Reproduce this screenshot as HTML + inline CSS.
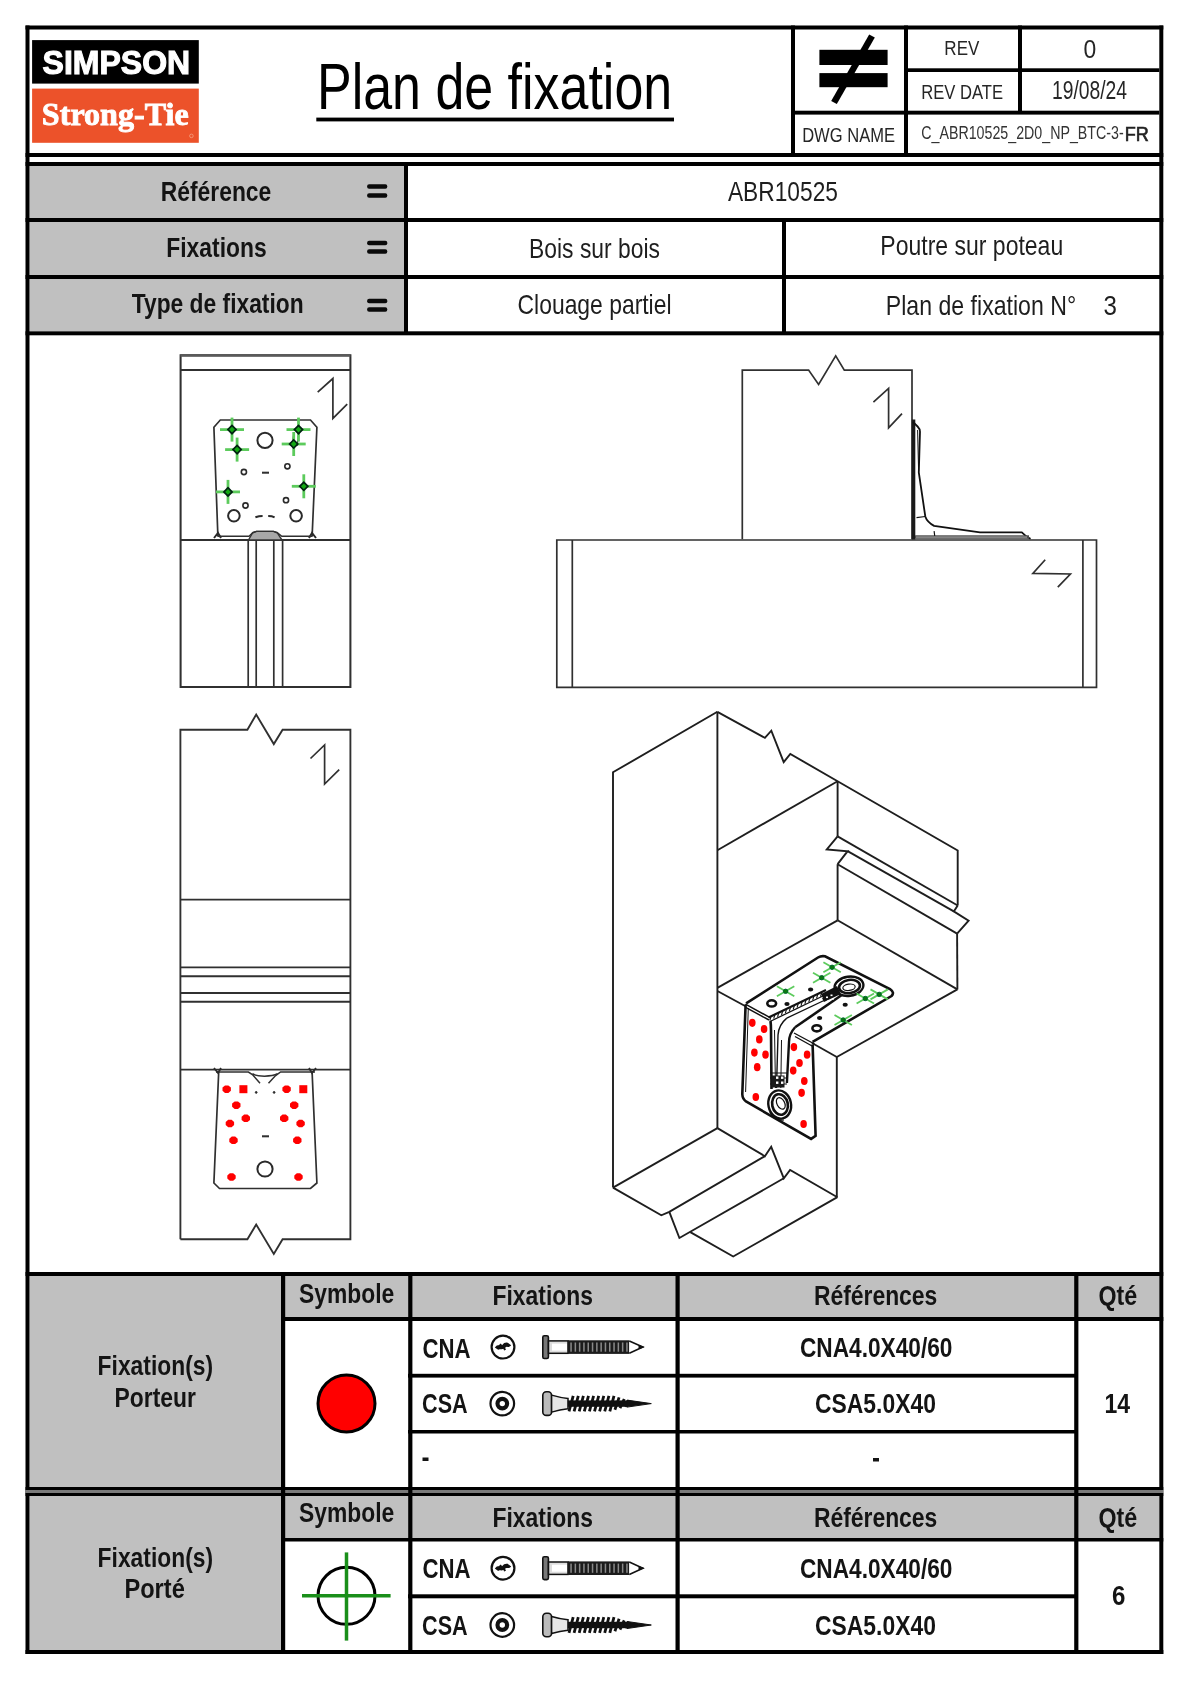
<!DOCTYPE html>
<html><head><meta charset="utf-8"><title>Plan de fixation</title>
<style>
html,body{margin:0;padding:0;background:#fff;}
body{width:1190px;height:1682px;overflow:hidden;font-family:"Liberation Sans",sans-serif;}
svg{display:block;}
svg{will-change:transform;}
</style></head>
<body>
<svg width="1190" height="1682" viewBox="0 0 1190 1682">
<rect x="0" y="0" width="1190" height="1682" fill="#fff"/>
<rect x="29.5" y="166" width="374.5" height="165" fill="#c0c0c0"/>
<rect x="29.5" y="1276" width="251.5" height="211" fill="#c0c0c0"/>
<rect x="285" y="1276" width="874.3" height="41" fill="#c0c0c0"/>
<rect x="29.5" y="1496" width="251.5" height="154" fill="#c0c0c0"/>
<rect x="285" y="1496" width="874.3" height="42" fill="#c0c0c0"/>
<rect x="25.5" y="25.5" width="1137.8" height="4.0" fill="#000"/>
<rect x="25.5" y="25.5" width="4.0" height="1628.5" fill="#000"/>
<rect x="1159.3" y="25.5" width="4.0" height="1628.5" fill="#000"/>
<rect x="25.5" y="1650" width="1137.8" height="4" fill="#000"/>
<rect x="906" y="68.3" width="253.3" height="3.7" fill="#000"/>
<rect x="793" y="110.7" width="366.3" height="3.9" fill="#000"/>
<rect x="25.5" y="153" width="1137.8" height="4" fill="#000"/>
<rect x="25.5" y="162" width="1137.8" height="4" fill="#000"/>
<rect x="791" y="25.5" width="4" height="131.5" fill="#000"/>
<rect x="904" y="25.5" width="4" height="131.5" fill="#000"/>
<rect x="1018" y="25.5" width="4" height="88.5" fill="#000"/>
<rect x="25.5" y="218" width="1137.8" height="4" fill="#000"/>
<rect x="25.5" y="275" width="1137.8" height="4" fill="#000"/>
<rect x="25.5" y="331.3" width="1137.8" height="4.0" fill="#000"/>
<rect x="404" y="162" width="4" height="173" fill="#000"/>
<rect x="782" y="218" width="4" height="117" fill="#000"/>
<rect x="25.5" y="1272" width="1137.8" height="4" fill="#000"/>
<rect x="25.5" y="1487" width="1137.8" height="3" fill="#000"/>
<rect x="25.5" y="1490" width="1137.8" height="3" fill="#7a7a7a"/>
<rect x="25.5" y="1493" width="1137.8" height="3" fill="#000"/>
<rect x="281" y="1272" width="4.2" height="382" fill="#000"/>
<rect x="408.2" y="1272" width="4.2" height="382" fill="#000"/>
<rect x="675.5" y="1272" width="4.2" height="382" fill="#000"/>
<rect x="1074.2" y="1272" width="4.2" height="382" fill="#000"/>
<rect x="281" y="1317" width="882.3" height="4" fill="#000"/>
<rect x="281" y="1538" width="882.3" height="3.5" fill="#000"/>
<rect x="408" y="1373.8" width="670" height="3.8" fill="#000"/>
<rect x="408" y="1430" width="670" height="3.5" fill="#000"/>
<rect x="408" y="1594.3" width="670" height="4.0" fill="#000"/>
<rect x="32.1" y="40.1" width="166.7" height="43.5" fill="#000"/>
<rect x="32.1" y="88.6" width="166.7" height="54.2" fill="#ec522a"/>
<text x="42.62" y="73.7" font-family="Liberation Sans" font-size="32.5" font-weight="bold" fill="#fff" textLength="147.51" lengthAdjust="spacingAndGlyphs" stroke="#fff" stroke-width="1.1">SIMPSON</text>
<text x="41.87" y="125.1" font-family="Liberation Serif" font-size="32.5" font-weight="bold" fill="#fff" textLength="146.82" lengthAdjust="spacingAndGlyphs" stroke="#fff" stroke-width="0.9">Strong-Tie</text>
<circle cx="191.4" cy="135.9" r="1.8" stroke="#f7a98c" stroke-width="0.7" fill="none"/>
<text x="317.00" y="108.8" font-family="Liberation Sans" font-size="65" font-weight="normal" fill="#000" textLength="355.16" lengthAdjust="spacingAndGlyphs">Plan de fixation</text>
<rect x="316.3" y="117.6" width="357.7" height="3.8" fill="#000"/>
<rect x="819.4" y="49.8" width="68.2" height="15.2" fill="#000"/>
<rect x="819.4" y="73.1" width="68.2" height="14.1" fill="#000"/>
<path d="M872,36 L834,102.5" stroke="#000" stroke-width="6.5" fill="none" stroke-linejoin="miter" stroke-linecap="butt"/>
<text x="944.35" y="55.4" font-family="Liberation Sans" font-size="20.5" font-weight="normal" fill="#262626" textLength="34.97" lengthAdjust="spacingAndGlyphs">REV</text>
<text x="1083.60" y="57.7" font-family="Liberation Sans" font-size="25.5" font-weight="normal" fill="#262626" textLength="12.73" lengthAdjust="spacingAndGlyphs">0</text>
<text x="921.28" y="99.3" font-family="Liberation Sans" font-size="20.5" font-weight="normal" fill="#262626" textLength="81.83" lengthAdjust="spacingAndGlyphs">REV DATE</text>
<text x="1051.98" y="99.3" font-family="Liberation Sans" font-size="25.5" font-weight="normal" fill="#262626" textLength="75.10" lengthAdjust="spacingAndGlyphs">19/08/24</text>
<text x="802.16" y="141.7" font-family="Liberation Sans" font-size="20" font-weight="normal" fill="#262626" textLength="92.84" lengthAdjust="spacingAndGlyphs">DWG NAME</text>
<text x="921.25" y="139.4" font-family="Liberation Sans" font-size="19" font-weight="normal" fill="#333" textLength="202.39" lengthAdjust="spacingAndGlyphs">C_ABR10525_2D0_NP_BTC-3-</text>
<text x="1124.69" y="141.2" font-family="Liberation Sans" font-size="19.5" font-weight="normal" fill="#222" textLength="24.13" lengthAdjust="spacingAndGlyphs" stroke="#222" stroke-width="0.6">FR</text>
<text x="160.82" y="200.9" font-family="Liberation Sans" font-size="28" font-weight="bold" fill="#141414" textLength="110.42" lengthAdjust="spacingAndGlyphs">Référence</text>
<text x="166.27" y="257.2" font-family="Liberation Sans" font-size="28" font-weight="bold" fill="#141414" textLength="100.38" lengthAdjust="spacingAndGlyphs">Fixations</text>
<text x="131.80" y="312.5" font-family="Liberation Sans" font-size="28" font-weight="bold" fill="#141414" textLength="171.78" lengthAdjust="spacingAndGlyphs">Type de fixation</text>
<rect x="367.1" y="184.3" width="20.2" height="4.5" rx="2" fill="#0a0a0a"/>
<rect x="367.1" y="193.2" width="20.2" height="4.5" rx="2" fill="#0a0a0a"/>
<rect x="367.1" y="240.7" width="20.2" height="4.5" rx="2" fill="#0a0a0a"/>
<rect x="367.1" y="249.3" width="20.2" height="4.5" rx="2" fill="#0a0a0a"/>
<rect x="367.1" y="298.7" width="20.2" height="4.5" rx="2" fill="#0a0a0a"/>
<rect x="367.1" y="307.3" width="20.2" height="4.5" rx="2" fill="#0a0a0a"/>
<text x="727.90" y="201" font-family="Liberation Sans" font-size="27.5" font-weight="normal" fill="#1e1e1e" textLength="110.05" lengthAdjust="spacingAndGlyphs">ABR10525</text>
<text x="529.06" y="257.6" font-family="Liberation Sans" font-size="28" font-weight="normal" fill="#1e1e1e" textLength="130.89" lengthAdjust="spacingAndGlyphs">Bois sur bois</text>
<text x="517.58" y="313.5" font-family="Liberation Sans" font-size="28" font-weight="normal" fill="#1e1e1e" textLength="153.93" lengthAdjust="spacingAndGlyphs">Clouage partiel</text>
<text x="880.35" y="255" font-family="Liberation Sans" font-size="28" font-weight="normal" fill="#1e1e1e" textLength="182.86" lengthAdjust="spacingAndGlyphs">Poutre sur poteau</text>
<text x="885.84" y="314.5" font-family="Liberation Sans" font-size="28" font-weight="normal" fill="#1e1e1e" textLength="190.32" lengthAdjust="spacingAndGlyphs">Plan de fixation N°</text>
<text x="1103.53" y="314.5" font-family="Liberation Sans" font-size="28" font-weight="normal" fill="#1e1e1e" textLength="13.40" lengthAdjust="spacingAndGlyphs">3</text>
<text x="299.07" y="1303.4" font-family="Liberation Sans" font-size="27" font-weight="bold" fill="#141414" textLength="95.20" lengthAdjust="spacingAndGlyphs">Symbole</text>
<text x="492.52" y="1304.7" font-family="Liberation Sans" font-size="27" font-weight="bold" fill="#141414" textLength="100.45" lengthAdjust="spacingAndGlyphs">Fixations</text>
<text x="813.92" y="1304.7" font-family="Liberation Sans" font-size="27" font-weight="bold" fill="#141414" textLength="123.40" lengthAdjust="spacingAndGlyphs">Références</text>
<text x="1098.43" y="1304.7" font-family="Liberation Sans" font-size="27" font-weight="bold" fill="#141414" textLength="38.73" lengthAdjust="spacingAndGlyphs">Qté</text>
<text x="97.62" y="1375.1" font-family="Liberation Sans" font-size="27" font-weight="bold" fill="#141414" textLength="115.45" lengthAdjust="spacingAndGlyphs">Fixation(s)</text>
<text x="114.52" y="1407.1" font-family="Liberation Sans" font-size="27" font-weight="bold" fill="#141414" textLength="81.31" lengthAdjust="spacingAndGlyphs">Porteur</text>
<text x="422.47" y="1357.6" font-family="Liberation Sans" font-size="27" font-weight="bold" fill="#141414" textLength="48.14" lengthAdjust="spacingAndGlyphs">CNA</text>
<text x="422.10" y="1413.2" font-family="Liberation Sans" font-size="27" font-weight="bold" fill="#141414" textLength="45.60" lengthAdjust="spacingAndGlyphs">CSA</text>
<rect x="422.5" y="1457.5" width="6.0" height="3.5" fill="#141414"/>
<text x="799.96" y="1357" font-family="Liberation Sans" font-size="27" font-weight="bold" fill="#141414" textLength="152.47" lengthAdjust="spacingAndGlyphs">CNA4.0X40/60</text>
<text x="815.05" y="1413.2" font-family="Liberation Sans" font-size="27" font-weight="bold" fill="#141414" textLength="120.87" lengthAdjust="spacingAndGlyphs">CSA5.0X40</text>
<rect x="873" y="1458" width="6" height="3.5" fill="#141414"/>
<text x="1104.51" y="1413.2" font-family="Liberation Sans" font-size="27" font-weight="bold" fill="#141414" textLength="25.63" lengthAdjust="spacingAndGlyphs">14</text>
<circle cx="346.5" cy="1403.5" r="28.5" stroke="#000" stroke-width="3" fill="#ff0000"/>
<text x="299.07" y="1522.4" font-family="Liberation Sans" font-size="27" font-weight="bold" fill="#141414" textLength="95.20" lengthAdjust="spacingAndGlyphs">Symbole</text>
<text x="492.52" y="1527" font-family="Liberation Sans" font-size="27" font-weight="bold" fill="#141414" textLength="100.45" lengthAdjust="spacingAndGlyphs">Fixations</text>
<text x="813.92" y="1527" font-family="Liberation Sans" font-size="27" font-weight="bold" fill="#141414" textLength="123.40" lengthAdjust="spacingAndGlyphs">Références</text>
<text x="1098.43" y="1527" font-family="Liberation Sans" font-size="27" font-weight="bold" fill="#141414" textLength="38.73" lengthAdjust="spacingAndGlyphs">Qté</text>
<text x="97.62" y="1566.5" font-family="Liberation Sans" font-size="27" font-weight="bold" fill="#141414" textLength="115.45" lengthAdjust="spacingAndGlyphs">Fixation(s)</text>
<text x="124.47" y="1598" font-family="Liberation Sans" font-size="27" font-weight="bold" fill="#141414" textLength="60.31" lengthAdjust="spacingAndGlyphs">Porté</text>
<text x="422.47" y="1577.5" font-family="Liberation Sans" font-size="27" font-weight="bold" fill="#141414" textLength="48.14" lengthAdjust="spacingAndGlyphs">CNA</text>
<text x="422.10" y="1634.6" font-family="Liberation Sans" font-size="27" font-weight="bold" fill="#141414" textLength="45.60" lengthAdjust="spacingAndGlyphs">CSA</text>
<text x="799.96" y="1577.5" font-family="Liberation Sans" font-size="27" font-weight="bold" fill="#141414" textLength="152.47" lengthAdjust="spacingAndGlyphs">CNA4.0X40/60</text>
<text x="815.05" y="1634.6" font-family="Liberation Sans" font-size="27" font-weight="bold" fill="#141414" textLength="120.87" lengthAdjust="spacingAndGlyphs">CSA5.0X40</text>
<text x="1112.11" y="1605" font-family="Liberation Sans" font-size="27" font-weight="bold" fill="#141414" textLength="13.40" lengthAdjust="spacingAndGlyphs">6</text>
<circle cx="346.5" cy="1595.8" r="28.5" stroke="#000" stroke-width="3" fill="none"/>
<path d="M302,1595.8 L390.6,1595.8" stroke="#1a8f1a" stroke-width="3.5" fill="none" stroke-linejoin="miter" stroke-linecap="butt"/>
<path d="M346.5,1552.4 L346.5,1640.6" stroke="#1a8f1a" stroke-width="3.5" fill="none" stroke-linejoin="miter" stroke-linecap="butt"/>
<circle cx="503" cy="1347.1" r="11.4" stroke="#111" stroke-width="2.2" fill="none"/>
<path d="M496.5,1348.6 C499,1345.1 502,1349.1 504,1346.1 C506,1343.1 508,1346.1 509.5,1344.1" stroke="#111" stroke-width="4.2" fill="none"/>
<path d="M500,1344.1 l1.5,2 M505,1350.1 l-1,-2.5" stroke="#111" stroke-width="2" fill="none"/>
<circle cx="502.3" cy="1403.6" r="11.8" stroke="#111" stroke-width="2.2" fill="none"/>
<circle cx="502.3" cy="1403.6" r="4.8" stroke="#111" stroke-width="4.2" fill="none"/>
<rect x="542.8" y="1335.6999999999998" width="5.6" height="22.8" rx="1.5" fill="#777" stroke="#111" stroke-width="1.6"/>
<rect x="548.5" y="1340.8999999999999" width="19.5" height="12.4" fill="#ddd" stroke="#111" stroke-width="1.5"/>
<rect x="552" y="1343.6" width="15" height="7" fill="#fff"/>
<rect x="568" y="1340.3" width="61.3" height="13.6" fill="#1c1c1c"/>
<rect x="570.3" y="1342.5" width="1.5" height="9.2" fill="#8a8a8a"/>
<rect x="574.6" y="1342.5" width="1.5" height="9.2" fill="#8a8a8a"/>
<rect x="578.9" y="1342.5" width="1.5" height="9.2" fill="#8a8a8a"/>
<rect x="583.2" y="1342.5" width="1.5" height="9.2" fill="#8a8a8a"/>
<rect x="587.5" y="1342.5" width="1.5" height="9.2" fill="#8a8a8a"/>
<rect x="591.8" y="1342.5" width="1.5" height="9.2" fill="#8a8a8a"/>
<rect x="596.1" y="1342.5" width="1.5" height="9.2" fill="#8a8a8a"/>
<rect x="600.4" y="1342.5" width="1.5" height="9.2" fill="#8a8a8a"/>
<rect x="604.7" y="1342.5" width="1.5" height="9.2" fill="#8a8a8a"/>
<rect x="609.0" y="1342.5" width="1.5" height="9.2" fill="#8a8a8a"/>
<rect x="613.3" y="1342.5" width="1.5" height="9.2" fill="#8a8a8a"/>
<rect x="617.6" y="1342.5" width="1.5" height="9.2" fill="#8a8a8a"/>
<rect x="621.9" y="1342.5" width="1.5" height="9.2" fill="#8a8a8a"/>
<rect x="626.2" y="1342.5" width="1.5" height="9.2" fill="#8a8a8a"/>
<path d="M629.3,1340.8999999999999 L642.9,1347.1 L629.3,1353.3" stroke="#111" stroke-width="1.6" fill="#fff"/>
<path d="M639,1345.5 L643.5,1347.1 L639,1348.6999999999998 Z" stroke="#111" stroke-width="1" fill="#111"/>
<rect x="542.8" y="1391.8" width="8.8" height="23.6" rx="3.5" fill="#bbb" stroke="#111" stroke-width="1.6"/>
<path d="M551.6,1395.1 Q560,1397.6 568,1398.3999999999999 L568,1408.8 Q560,1409.6 551.6,1412.1 Z" stroke="#111" stroke-width="1.5" fill="#e6e6e6"/>
<rect x="567.8" y="1400.3999999999999" width="60" height="6.4" fill="#111"/>
<path d="M569.0,1411.4 L573.2,1395.8" stroke="#111" stroke-width="2.8" fill="none"/>
<path d="M574.1,1411.4 L578.3,1395.8" stroke="#111" stroke-width="2.8" fill="none"/>
<path d="M579.2,1411.4 L583.4,1395.8" stroke="#111" stroke-width="2.8" fill="none"/>
<path d="M584.3,1411.4 L588.5,1395.8" stroke="#111" stroke-width="2.8" fill="none"/>
<path d="M589.4,1411.4 L593.6,1395.8" stroke="#111" stroke-width="2.8" fill="none"/>
<path d="M594.5,1411.4 L598.7,1395.8" stroke="#111" stroke-width="2.8" fill="none"/>
<path d="M599.6,1411.4 L603.8,1395.8" stroke="#111" stroke-width="2.8" fill="none"/>
<path d="M604.7,1411.4 L608.9,1395.8" stroke="#111" stroke-width="2.8" fill="none"/>
<path d="M609.8,1411.4 L614.0,1395.8" stroke="#111" stroke-width="2.8" fill="none"/>
<path d="M614.9,1409.8 L619.1,1397.4" stroke="#111" stroke-width="2.8" fill="none"/>
<path d="M620.0,1408.2 L624.2,1399.0" stroke="#111" stroke-width="2.8" fill="none"/>
<path d="M625.1,1406.6 L629.3,1400.6" stroke="#111" stroke-width="2.8" fill="none"/>
<path d="M627,1400.1 L651.3,1403.6 L627,1407.1 Z" stroke="#111" stroke-width="1" fill="#111"/>
<circle cx="503" cy="1568.2" r="11.4" stroke="#111" stroke-width="2.2" fill="none"/>
<path d="M496.5,1569.7 C499,1566.2 502,1570.2 504,1567.2 C506,1564.2 508,1567.2 509.5,1565.2" stroke="#111" stroke-width="4.2" fill="none"/>
<path d="M500,1565.2 l1.5,2 M505,1571.2 l-1,-2.5" stroke="#111" stroke-width="2" fill="none"/>
<circle cx="502.3" cy="1625" r="11.8" stroke="#111" stroke-width="2.2" fill="none"/>
<circle cx="502.3" cy="1625" r="4.8" stroke="#111" stroke-width="4.2" fill="none"/>
<rect x="542.8" y="1556.8" width="5.6" height="22.8" rx="1.5" fill="#777" stroke="#111" stroke-width="1.6"/>
<rect x="548.5" y="1562.0" width="19.5" height="12.4" fill="#ddd" stroke="#111" stroke-width="1.5"/>
<rect x="552" y="1564.7" width="15" height="7" fill="#fff"/>
<rect x="568" y="1561.4" width="61.3" height="13.6" fill="#1c1c1c"/>
<rect x="570.3" y="1563.6000000000001" width="1.5" height="9.2" fill="#8a8a8a"/>
<rect x="574.6" y="1563.6000000000001" width="1.5" height="9.2" fill="#8a8a8a"/>
<rect x="578.9" y="1563.6000000000001" width="1.5" height="9.2" fill="#8a8a8a"/>
<rect x="583.2" y="1563.6000000000001" width="1.5" height="9.2" fill="#8a8a8a"/>
<rect x="587.5" y="1563.6000000000001" width="1.5" height="9.2" fill="#8a8a8a"/>
<rect x="591.8" y="1563.6000000000001" width="1.5" height="9.2" fill="#8a8a8a"/>
<rect x="596.1" y="1563.6000000000001" width="1.5" height="9.2" fill="#8a8a8a"/>
<rect x="600.4" y="1563.6000000000001" width="1.5" height="9.2" fill="#8a8a8a"/>
<rect x="604.7" y="1563.6000000000001" width="1.5" height="9.2" fill="#8a8a8a"/>
<rect x="609.0" y="1563.6000000000001" width="1.5" height="9.2" fill="#8a8a8a"/>
<rect x="613.3" y="1563.6000000000001" width="1.5" height="9.2" fill="#8a8a8a"/>
<rect x="617.6" y="1563.6000000000001" width="1.5" height="9.2" fill="#8a8a8a"/>
<rect x="621.9" y="1563.6000000000001" width="1.5" height="9.2" fill="#8a8a8a"/>
<rect x="626.2" y="1563.6000000000001" width="1.5" height="9.2" fill="#8a8a8a"/>
<path d="M629.3,1562.0 L642.9,1568.2 L629.3,1574.4" stroke="#111" stroke-width="1.6" fill="#fff"/>
<path d="M639,1566.6000000000001 L643.5,1568.2 L639,1569.8 Z" stroke="#111" stroke-width="1" fill="#111"/>
<rect x="542.8" y="1613.2" width="8.8" height="23.6" rx="3.5" fill="#bbb" stroke="#111" stroke-width="1.6"/>
<path d="M551.6,1616.5 Q560,1619 568,1619.8 L568,1630.2 Q560,1631 551.6,1633.5 Z" stroke="#111" stroke-width="1.5" fill="#e6e6e6"/>
<rect x="567.8" y="1621.8" width="60" height="6.4" fill="#111"/>
<path d="M569.0,1632.8 L573.2,1617.2" stroke="#111" stroke-width="2.8" fill="none"/>
<path d="M574.1,1632.8 L578.3,1617.2" stroke="#111" stroke-width="2.8" fill="none"/>
<path d="M579.2,1632.8 L583.4,1617.2" stroke="#111" stroke-width="2.8" fill="none"/>
<path d="M584.3,1632.8 L588.5,1617.2" stroke="#111" stroke-width="2.8" fill="none"/>
<path d="M589.4,1632.8 L593.6,1617.2" stroke="#111" stroke-width="2.8" fill="none"/>
<path d="M594.5,1632.8 L598.7,1617.2" stroke="#111" stroke-width="2.8" fill="none"/>
<path d="M599.6,1632.8 L603.8,1617.2" stroke="#111" stroke-width="2.8" fill="none"/>
<path d="M604.7,1632.8 L608.9,1617.2" stroke="#111" stroke-width="2.8" fill="none"/>
<path d="M609.8,1632.8 L614.0,1617.2" stroke="#111" stroke-width="2.8" fill="none"/>
<path d="M614.9,1631.2 L619.1,1618.8" stroke="#111" stroke-width="2.8" fill="none"/>
<path d="M620.0,1629.6 L624.2,1620.4" stroke="#111" stroke-width="2.8" fill="none"/>
<path d="M625.1,1628.0 L629.3,1622.0" stroke="#111" stroke-width="2.8" fill="none"/>
<path d="M627,1621.5 L651.3,1625 L627,1628.5 Z" stroke="#111" stroke-width="1" fill="#111"/>
<path d="M180.6,355.3 L350.4,355.3 L350.4,686.9 L180.6,686.9 Z" stroke="#303030" stroke-width="2.04" fill="none" stroke-linejoin="miter" stroke-linecap="butt"/>
<path d="M180.4,355.3 L350.4,355.3" stroke="#5a5a5a" stroke-width="2.8" fill="none" stroke-linejoin="miter" stroke-linecap="butt"/>
<path d="M180.4,370 L350.4,370" stroke="#303030" stroke-width="2.04" fill="none" stroke-linejoin="miter" stroke-linecap="butt"/>
<path d="M180.4,540 L350.4,540" stroke="#303030" stroke-width="1.87" fill="none" stroke-linejoin="miter" stroke-linecap="butt"/>
<path d="M248.2,540 L248.2,686.9" stroke="#303030" stroke-width="1.7" fill="none" stroke-linejoin="miter" stroke-linecap="butt"/>
<path d="M256.2,540 L256.2,686.9" stroke="#303030" stroke-width="1.7" fill="none" stroke-linejoin="miter" stroke-linecap="butt"/>
<path d="M273.8,540 L273.8,686.9" stroke="#303030" stroke-width="1.7" fill="none" stroke-linejoin="miter" stroke-linecap="butt"/>
<path d="M282.6,540 L282.6,686.9" stroke="#303030" stroke-width="1.7" fill="none" stroke-linejoin="miter" stroke-linecap="butt"/>
<path d="M317.7,392.1 L332.9,378.5 L332.9,418.4 L347.2,404.1" stroke="#303030" stroke-width="1.7" fill="none" stroke-linejoin="miter" stroke-linecap="butt"/>
<path d="M217.9,536.6 L213.9,427.2 L220.3,420 L310.5,420 L316.9,427.2 L312.1,536.6" stroke="#303030" stroke-width="1.7" fill="none" stroke-linejoin="miter" stroke-linecap="butt"/>
<path d="M214,538 L218,533 L221,538 M309,538 L312,533 L316,538" stroke="#2a2a2a" stroke-width="2" fill="none"/>
<path d="M248.5,540 L252.5,533 L256.5,531.4 L273.5,531.4 L277.5,533 L282,540 Z" fill="#a8a8a8" stroke="#333" stroke-width="1.4"/>
<path d="M218,536.3 L249,536.3 L253,532.3 L256.5,531.4 L273.5,531.4 L277,532.3 L281.8,536.3 L312,536.3" stroke="#303030" stroke-width="1.36" fill="none" stroke-linejoin="miter" stroke-linecap="butt"/>
<circle cx="265" cy="440.3" r="7.6" stroke="#2a2a2a" stroke-width="2" fill="none"/>
<circle cx="243.9" cy="472" r="2.6" stroke="#2a2a2a" stroke-width="1.6" fill="none"/>
<circle cx="287.4" cy="466.3" r="2.6" stroke="#2a2a2a" stroke-width="1.6" fill="none"/>
<circle cx="245.5" cy="505.5" r="2.6" stroke="#2a2a2a" stroke-width="1.6" fill="none"/>
<circle cx="286" cy="500.2" r="2.6" stroke="#2a2a2a" stroke-width="1.6" fill="none"/>
<circle cx="233.9" cy="515.8" r="5.8" stroke="#2a2a2a" stroke-width="2" fill="none"/>
<circle cx="296.1" cy="515.8" r="5.8" stroke="#2a2a2a" stroke-width="2" fill="none"/>
<path d="M262,472.7 L269,472.7" stroke="#303030" stroke-width="2.04" fill="none" stroke-linejoin="miter" stroke-linecap="butt"/>
<path d="M255.4,517.3 Q259,516 262.6,516 M268.2,516 Q272,516 274.6,517.3" stroke="#2a2a2a" stroke-width="2" fill="none"/>
<path d="M294,432 L292,446 M299,432 L297,446" stroke="#2a2a2a" stroke-width="1.2" fill="none"/>
<path d="M220.0,429.6 L244.0,429.6" stroke="#5ccb5c" stroke-width="2.8" fill="none"/>
<path d="M232.0,417.6 L232.0,441.6" stroke="#5ccb5c" stroke-width="2.8" fill="none"/>
<rect x="229.1" y="426.7" width="5.8" height="5.8" transform="rotate(45 232 429.6)" fill="#12a812" stroke="#021" stroke-width="1.7"/>
<path d="M225.1,449.6 L249.1,449.6" stroke="#5ccb5c" stroke-width="2.8" fill="none"/>
<path d="M237.1,437.6 L237.1,461.6" stroke="#5ccb5c" stroke-width="2.8" fill="none"/>
<rect x="234.2" y="446.7" width="5.8" height="5.8" transform="rotate(45 237.1 449.6)" fill="#12a812" stroke="#021" stroke-width="1.7"/>
<path d="M286.5,429.6 L310.5,429.6" stroke="#5ccb5c" stroke-width="2.8" fill="none"/>
<path d="M298.5,417.6 L298.5,441.6" stroke="#5ccb5c" stroke-width="2.8" fill="none"/>
<rect x="295.6" y="426.7" width="5.8" height="5.8" transform="rotate(45 298.5 429.6)" fill="#12a812" stroke="#021" stroke-width="1.7"/>
<path d="M281.7,444.0 L305.7,444.0" stroke="#5ccb5c" stroke-width="2.8" fill="none"/>
<path d="M293.7,432.0 L293.7,456.0" stroke="#5ccb5c" stroke-width="2.8" fill="none"/>
<rect x="290.8" y="441.1" width="5.8" height="5.8" transform="rotate(45 293.7 444)" fill="#12a812" stroke="#021" stroke-width="1.7"/>
<path d="M216.0,491.9 L240.0,491.9" stroke="#5ccb5c" stroke-width="2.8" fill="none"/>
<path d="M228.0,479.9 L228.0,503.9" stroke="#5ccb5c" stroke-width="2.8" fill="none"/>
<rect x="225.1" y="489.0" width="5.8" height="5.8" transform="rotate(45 228 491.9)" fill="#12a812" stroke="#021" stroke-width="1.7"/>
<path d="M291.8,486.3 L315.8,486.3" stroke="#5ccb5c" stroke-width="2.8" fill="none"/>
<path d="M303.8,474.3 L303.8,498.3" stroke="#5ccb5c" stroke-width="2.8" fill="none"/>
<rect x="300.9" y="483.4" width="5.8" height="5.8" transform="rotate(45 303.8 486.3)" fill="#12a812" stroke="#021" stroke-width="1.7"/>
<path d="M742.3,539.3 L742.3,370.1 L808.6,370.1 L818.6,384.4 L835.7,355.9 L844.3,370.1 L912,370.1 L912,539.3" stroke="#303030" stroke-width="1.7" fill="none" stroke-linejoin="miter" stroke-linecap="butt"/>
<path d="M873.4,402.1 L888.6,388.4 L888.6,427.9 L902,413.6" stroke="#303030" stroke-width="1.7" fill="none" stroke-linejoin="miter" stroke-linecap="butt"/>
<path d="M556.8,540 L1096.5,540 L1096.5,687.4 L556.8,687.4 Z" stroke="#303030" stroke-width="1.7" fill="none" stroke-linejoin="miter" stroke-linecap="butt"/>
<path d="M572.3,540 L572.3,687.4" stroke="#303030" stroke-width="1.7" fill="none" stroke-linejoin="miter" stroke-linecap="butt"/>
<path d="M1082.9,540 L1082.9,687.4" stroke="#303030" stroke-width="1.7" fill="none" stroke-linejoin="miter" stroke-linecap="butt"/>
<path d="M1045.2,559.8 L1032.9,573.4 L1070.4,574 L1057.8,587.1" stroke="#303030" stroke-width="1.7" fill="none" stroke-linejoin="miter" stroke-linecap="butt"/>
<rect x="911.8" y="419.5" width="3.5" height="120.0" fill="#1a1a1a"/>
<path d="M912.9,421.8 L917.6,426.5 Q920,429 920,431.8 L918.8,472.4 L925.3,516.5 Q927,522 934.1,525.9 L980,532.4 L1021.8,532.4 L1027.1,537.1 L1030.6,538.8" stroke="#111" stroke-width="1.8" fill="none"/>
<path d="M917.6,430 L918.6,471" stroke="#111" stroke-width="1.0" fill="none" stroke-linejoin="miter" stroke-linecap="butt"/>
<rect x="915" y="535.3" width="114" height="3.5" fill="#4a4a4a"/>
<rect x="916" y="536.6" width="111" height="0.9" fill="#bbb"/>
<path d="M916.5,517.6 L925.3,516.5" stroke="#111" stroke-width="1.2" fill="none" stroke-linejoin="miter" stroke-linecap="butt"/>
<path d="M934.1,531.2 L934.7,535.9" stroke="#111" stroke-width="1.2" fill="none" stroke-linejoin="miter" stroke-linecap="butt"/>
<path d="M180.4,1239.2 L180.4,729.7 L247.4,729.7 L256.2,714.6 L273.8,744.1 L282.6,729.7 L350.4,729.7 L350.4,1239.2 L282.6,1239.2 L273.8,1254 L256.2,1224.5 L247.4,1239.2 L180.4,1239.2" stroke="#303030" stroke-width="1.87" fill="none" stroke-linejoin="miter" stroke-linecap="butt"/>
<path d="M310.5,758.5 L324.6,744.9 L324.6,784 L339.2,769.7" stroke="#303030" stroke-width="1.7" fill="none" stroke-linejoin="miter" stroke-linecap="butt"/>
<path d="M180.4,899.6 L350.4,899.6" stroke="#303030" stroke-width="1.87" fill="none" stroke-linejoin="miter" stroke-linecap="butt"/>
<path d="M180.4,967.4 L350.4,967.4" stroke="#303030" stroke-width="1.87" fill="none" stroke-linejoin="miter" stroke-linecap="butt"/>
<path d="M180.4,976.2 L350.4,976.2" stroke="#303030" stroke-width="1.87" fill="none" stroke-linejoin="miter" stroke-linecap="butt"/>
<path d="M180.4,993 L350.4,993" stroke="#303030" stroke-width="1.87" fill="none" stroke-linejoin="miter" stroke-linecap="butt"/>
<path d="M180.4,1001.8 L350.4,1001.8" stroke="#303030" stroke-width="1.87" fill="none" stroke-linejoin="miter" stroke-linecap="butt"/>
<path d="M180.4,1069.6 L350.4,1069.6" stroke="#303030" stroke-width="1.87" fill="none" stroke-linejoin="miter" stroke-linecap="butt"/>
<path d="M218.7,1072 L213.9,1183 L219.5,1188.5 L310.5,1188.5 L316.9,1183 L312.1,1072" stroke="#303030" stroke-width="1.7" fill="none" stroke-linejoin="miter" stroke-linecap="butt"/>
<path d="M216,1072 L248.4,1072 L252.4,1074.6 L260,1083.2" stroke="#303030" stroke-width="1.53" fill="none" stroke-linejoin="miter" stroke-linecap="butt"/>
<path d="M268.5,1083.2 L275.6,1075.6 L280.6,1072 L315,1072" stroke="#303030" stroke-width="1.53" fill="none" stroke-linejoin="miter" stroke-linecap="butt"/>
<path d="M252.4,1073.8 Q256,1076 264.5,1076.2 Q273,1076 277.6,1073.8" stroke="#303030" stroke-width="1.6" fill="none"/>
<path d="M214,1068 L218,1073 L221,1068 M309,1068 L312,1073 L316,1068" stroke="#2a2a2a" stroke-width="1.8" fill="none"/>
<rect x="239.4" y="1085.2" width="8" height="8" fill="#ff0000"/>
<rect x="299.3" y="1085.2" width="8" height="8" fill="#ff0000"/>
<polygon points="230.9,1090.8 228.4,1093.0 225.0,1093.0 222.5,1090.8 222.5,1087.6 225.0,1085.4 228.4,1085.4 230.9,1087.6" fill="#ff0000"/>
<polygon points="290.8,1090.8 288.3,1093.0 284.9,1093.0 282.4,1090.8 282.4,1087.6 284.9,1085.4 288.3,1085.4 290.8,1087.6" fill="#ff0000"/>
<polygon points="240.5,1106.8 238.0,1109.0 234.6,1109.0 232.1,1106.8 232.1,1103.6 234.6,1101.4 238.0,1101.4 240.5,1103.6" fill="#ff0000"/>
<polygon points="298.4,1106.8 295.9,1109.0 292.5,1109.0 290.0,1106.8 290.0,1103.6 292.5,1101.4 295.9,1101.4 298.4,1103.6" fill="#ff0000"/>
<polygon points="250.0,1119.9 247.5,1122.1 244.1,1122.1 241.6,1119.9 241.6,1116.7 244.1,1114.5 247.5,1114.5 250.0,1116.7" fill="#ff0000"/>
<polygon points="288.4,1119.9 285.9,1122.1 282.5,1122.1 280.0,1119.9 280.0,1116.7 282.5,1114.5 285.9,1114.5 288.4,1116.7" fill="#ff0000"/>
<polygon points="234.1,1125.1 231.6,1127.3 228.2,1127.3 225.7,1125.1 225.7,1121.9 228.2,1119.7 231.6,1119.7 234.1,1121.9" fill="#ff0000"/>
<polygon points="304.8,1125.1 302.3,1127.3 298.9,1127.3 296.4,1125.1 296.4,1121.9 298.9,1119.7 302.3,1119.7 304.8,1121.9" fill="#ff0000"/>
<polygon points="237.7,1141.9 235.2,1144.1 231.8,1144.1 229.3,1141.9 229.3,1138.7 231.8,1136.5 235.2,1136.5 237.7,1138.7" fill="#ff0000"/>
<polygon points="301.5,1141.9 299.0,1144.1 295.6,1144.1 293.1,1141.9 293.1,1138.7 295.6,1136.5 299.0,1136.5 301.5,1138.7" fill="#ff0000"/>
<polygon points="235.7,1178.6 233.2,1180.8 229.8,1180.8 227.3,1178.6 227.3,1175.4 229.8,1173.2 233.2,1173.2 235.7,1175.4" fill="#ff0000"/>
<polygon points="302.7,1178.6 300.2,1180.8 296.8,1180.8 294.3,1178.6 294.3,1175.4 296.8,1173.2 300.2,1173.2 302.7,1175.4" fill="#ff0000"/>
<circle cx="256.2" cy="1092.4" r="0.9" stroke="#2a2a2a" stroke-width="1" fill="#2a2a2a"/>
<circle cx="274.1" cy="1092.4" r="0.9" stroke="#2a2a2a" stroke-width="1" fill="#2a2a2a"/>
<path d="M262,1136.3 L269,1136.3" stroke="#303030" stroke-width="2.04" fill="none" stroke-linejoin="miter" stroke-linecap="butt"/>
<circle cx="265" cy="1169" r="7.6" stroke="#2a2a2a" stroke-width="2" fill="none"/>
<path d="M717.4,711.8 L613,772.3 L613,1187.6" stroke="#1e1e1e" stroke-width="1.9" fill="none" stroke-linejoin="miter" stroke-linecap="butt"/>
<path d="M717.4,711.8 L717.4,1128.1" stroke="#1e1e1e" stroke-width="1.9" fill="none" stroke-linejoin="miter" stroke-linecap="butt"/>
<path d="M717.4,711.8 L764.9,737.8 L771.3,730.7 L783.7,762.2 L790.3,754 L837.6,781.2" stroke="#1e1e1e" stroke-width="1.9" fill="none" stroke-linejoin="miter" stroke-linecap="butt"/>
<path d="M837.6,781.2 L837.6,836.4" stroke="#1e1e1e" stroke-width="1.9" fill="none" stroke-linejoin="miter" stroke-linecap="butt"/>
<path d="M837.6,781.2 L957.7,850.5 L957.7,905.5" stroke="#1e1e1e" stroke-width="1.9" fill="none" stroke-linejoin="miter" stroke-linecap="butt"/>
<path d="M717.4,850.2 L837.6,781.2" stroke="#1e1e1e" stroke-width="1.9" fill="none" stroke-linejoin="miter" stroke-linecap="butt"/>
<path d="M837.6,836.4 L826.8,849.4 L847.6,851.2 L837.6,864.2" stroke="#1e1e1e" stroke-width="1.9" fill="none" stroke-linejoin="miter" stroke-linecap="butt"/>
<path d="M837.6,836.4 L957.7,905.5" stroke="#1e1e1e" stroke-width="1.9" fill="none" stroke-linejoin="miter" stroke-linecap="butt"/>
<path d="M847.6,851.2 L953.8,911.4" stroke="#1e1e1e" stroke-width="1.9" fill="none" stroke-linejoin="miter" stroke-linecap="butt"/>
<path d="M957.7,905.5 L953.8,911.4 L968.6,920.6 L957.1,933.6" stroke="#1e1e1e" stroke-width="1.9" fill="none" stroke-linejoin="miter" stroke-linecap="butt"/>
<path d="M837.6,864.2 L957.1,933.6" stroke="#1e1e1e" stroke-width="1.9" fill="none" stroke-linejoin="miter" stroke-linecap="butt"/>
<path d="M837.6,864.2 L837.6,920.3" stroke="#1e1e1e" stroke-width="1.9" fill="none" stroke-linejoin="miter" stroke-linecap="butt"/>
<path d="M837.6,920.3 L717.4,987.8" stroke="#1e1e1e" stroke-width="1.9" fill="none" stroke-linejoin="miter" stroke-linecap="butt"/>
<path d="M837.6,920.3 L957.4,989.4" stroke="#1e1e1e" stroke-width="1.9" fill="none" stroke-linejoin="miter" stroke-linecap="butt"/>
<path d="M957.1,933.6 L957.4,989.4" stroke="#1e1e1e" stroke-width="1.9" fill="none" stroke-linejoin="miter" stroke-linecap="butt"/>
<path d="M717.4,991 L746,1006.5" stroke="#1e1e1e" stroke-width="1.9" fill="none" stroke-linejoin="miter" stroke-linecap="butt"/>
<path d="M812,1043 L836.8,1057" stroke="#1e1e1e" stroke-width="1.9" fill="none" stroke-linejoin="miter" stroke-linecap="butt"/>
<path d="M836.8,1057 L957.4,989.4" stroke="#1e1e1e" stroke-width="1.9" fill="none" stroke-linejoin="miter" stroke-linecap="butt"/>
<path d="M836.8,1057 L836.8,1197.2" stroke="#1e1e1e" stroke-width="1.9" fill="none" stroke-linejoin="miter" stroke-linecap="butt"/>
<path d="M717.4,1128.1 L613,1187.6" stroke="#1e1e1e" stroke-width="1.9" fill="none" stroke-linejoin="miter" stroke-linecap="butt"/>
<path d="M717.4,1128.1 L764.9,1156.2 L771.2,1146.8 L783.8,1178.3 L790.1,1169.9 L837.4,1197.2" stroke="#1e1e1e" stroke-width="1.9" fill="none" stroke-linejoin="miter" stroke-linecap="butt"/>
<path d="M613,1187.6 L661.3,1215.3 L669.3,1211.9 L764.9,1156.2" stroke="#1e1e1e" stroke-width="1.9" fill="none" stroke-linejoin="miter" stroke-linecap="butt"/>
<path d="M669.3,1211.9 L679.4,1238 L783.8,1178.3" stroke="#1e1e1e" stroke-width="1.9" fill="none" stroke-linejoin="miter" stroke-linecap="butt"/>
<path d="M690.3,1232.1 L733.2,1256.5 L837.4,1197.2" stroke="#1e1e1e" stroke-width="1.9" fill="none" stroke-linejoin="miter" stroke-linecap="butt"/>
<path d="M746.1,1003.4 L818,957.5 Q821,955.6 825,956.3 L890,989 Q895,992.5 891.5,996 L812.6,1041.8" stroke="#111" stroke-width="2.6" fill="none"/>
<path d="M745.4,1004.2 L769.2,1017.1 M745.2,1007.2 L769,1020" stroke="#111" stroke-width="1.5" fill="none"/>
<path d="M794,1033 L814.5,1044 M795,1036.5 L813,1046.5" stroke="#111" stroke-width="1.4" fill="none"/>
<path d="M745.6,1004.5 L742.3,1094.3 Q742.5,1099 746,1101.5 L811.1,1138.9 L815.6,1135.9 L812.6,1044.4" stroke="#111" stroke-width="2.6" fill="none"/>
<path d="M748.3,1008 L745.6,1092" stroke="#111" stroke-width="1.0" fill="none"/>
<path d="M768.5,1017.5 L826,990" stroke="#111" stroke-width="2.2" fill="none"/>
<path d="M770,1021.5 L826,994.5" stroke="#111" stroke-width="1.3" fill="none"/>
<path d="M771.0,1016.3 l-1.2,4.2" stroke="#111" stroke-width="1.1" fill="none"/>
<path d="M774.9,1014.5 l-1.2,4.2" stroke="#111" stroke-width="1.1" fill="none"/>
<path d="M778.8,1012.6 l-1.2,4.2" stroke="#111" stroke-width="1.1" fill="none"/>
<path d="M782.7,1010.8 l-1.2,4.2" stroke="#111" stroke-width="1.1" fill="none"/>
<path d="M786.6,1008.9 l-1.2,4.2" stroke="#111" stroke-width="1.1" fill="none"/>
<path d="M790.5,1007.1 l-1.2,4.2" stroke="#111" stroke-width="1.1" fill="none"/>
<path d="M794.4,1005.3 l-1.2,4.2" stroke="#111" stroke-width="1.1" fill="none"/>
<path d="M798.3,1003.4 l-1.2,4.2" stroke="#111" stroke-width="1.1" fill="none"/>
<path d="M802.2,1001.6 l-1.2,4.2" stroke="#111" stroke-width="1.1" fill="none"/>
<path d="M806.1,999.7 l-1.2,4.2" stroke="#111" stroke-width="1.1" fill="none"/>
<path d="M810.0,997.9 l-1.2,4.2" stroke="#111" stroke-width="1.1" fill="none"/>
<path d="M813.9,996.1 l-1.2,4.2" stroke="#111" stroke-width="1.1" fill="none"/>
<path d="M817.8,994.2 l-1.2,4.2" stroke="#111" stroke-width="1.1" fill="none"/>
<path d="M821.7,992.4 l-1.2,4.2" stroke="#111" stroke-width="1.1" fill="none"/>
<path d="M786.8,1018.1 L824,1000.5" stroke="#111" stroke-width="1.3" fill="none"/>
<path d="M795.1,1027.3 L843.2,994" stroke="#111" stroke-width="2.6" fill="none"/>
<ellipse cx="849" cy="986.3" rx="14.5" ry="9.6" transform="rotate(-8 849 986.3)" fill="#fff" stroke="#111" stroke-width="2.4"/>
<ellipse cx="849.5" cy="986.5" rx="10.5" ry="6.6" transform="rotate(-8 849.5 986.5)" fill="none" stroke="#111" stroke-width="2.6"/>
<ellipse cx="849" cy="987.3" rx="6.2" ry="3.2" transform="rotate(-8 849 987.3)" fill="#fff" stroke="#111" stroke-width="1.2"/>
<path d="M836,983 Q848,972 862,980" stroke="#111" stroke-width="1.2" fill="none"/>
<path d="M822,996 L838,988 M823,1000 L840,992" stroke="#111" stroke-width="4.5" fill="none"/>
<rect x="826" y="996.5" width="2" height="1.6" fill="#fff"/>
<rect x="830.5" y="994.5" width="2" height="1.6" fill="#fff"/>
<rect x="827.5" y="1000" width="2" height="1.6" fill="#fff"/>
<rect x="832" y="998" width="2" height="1.6" fill="#fff"/>
<path d="M786.8,1018.1 Q778.5,1025 778,1035 L776.5,1088" stroke="#111" stroke-width="1.4" fill="none"/>
<path d="M795.1,1027.3 Q789,1034 789,1042 L786.9,1083" stroke="#111" stroke-width="2.4" fill="none"/>
<path d="M770.5,1021 Q771,1025 771,1030 L771.5,1089" stroke="#111" stroke-width="2.6" fill="none"/>
<path d="M774.5,1030 L775.5,1088 M781.5,1040 L780.8,1088" stroke="#111" stroke-width="1.0" fill="none"/>
<path d="M770,1073 L787,1073 M770,1078 L787,1078 M770,1084 L787,1084" stroke="#111" stroke-width="1.2" fill="none"/>
<rect x="771.5" y="1075.5" width="13" height="12" fill="#1a1a1a"/>
<rect x="776" y="1076.5" width="2.4" height="2.4" fill="#fff"/>
<rect x="781" y="1076.5" width="2.4" height="2.4" fill="#fff"/>
<rect x="776" y="1081.5" width="2.4" height="2.4" fill="#fff"/>
<rect x="781" y="1081.5" width="2.4" height="2.4" fill="#fff"/>
<ellipse cx="779.7" cy="1104.5" rx="11.3" ry="14.2" transform="rotate(-12 779.7 1104.5)" fill="#fff" stroke="#111" stroke-width="2.4"/>
<ellipse cx="780" cy="1104.5" rx="7.8" ry="10.4" transform="rotate(-12 780 1104.5)" fill="none" stroke="#111" stroke-width="2.6"/>
<ellipse cx="780.8" cy="1103.4" rx="3.8" ry="6.2" transform="rotate(-28 780.8 1103.4)" fill="#fff" stroke="#111" stroke-width="1.2"/>
<path d="M770,1112 Q774,1121 784,1120" stroke="#111" stroke-width="1.2" fill="none"/>
<ellipse cx="810.6" cy="989.5" rx="2.6" ry="2" fill="#111"/>
<ellipse cx="787" cy="1004.1" rx="2.6" ry="2" fill="#111"/>
<ellipse cx="819.6" cy="1017.9" rx="2.6" ry="2" fill="#111"/>
<ellipse cx="845.2" cy="1004.8" rx="2.6" ry="2" fill="#111"/>
<ellipse cx="771.7" cy="1003.4" rx="4.4" ry="3.1" stroke="#111" stroke-width="2.6" fill="none"/>
<ellipse cx="816.8" cy="1028.3" rx="4.4" ry="3.1" stroke="#111" stroke-width="2.6" fill="none"/>
<path d="M776.9,986.3 L794.3,996.3" stroke="#5ccb5c" stroke-width="1.8" fill="none"/>
<path d="M776.9,996.3 L794.3,986.3" stroke="#5ccb5c" stroke-width="1.8" fill="none"/>
<circle cx="785.6" cy="991.3" r="2.2" stroke="#063" stroke-width="1" fill="#0b7a0b"/>
<path d="M813.0,972.7 L830.4,982.7" stroke="#5ccb5c" stroke-width="1.8" fill="none"/>
<path d="M813.0,982.7 L830.4,972.7" stroke="#5ccb5c" stroke-width="1.8" fill="none"/>
<circle cx="821.7" cy="977.7" r="2.2" stroke="#063" stroke-width="1" fill="#0b7a0b"/>
<path d="M823.4,962.3 L840.8,972.3" stroke="#5ccb5c" stroke-width="1.8" fill="none"/>
<path d="M823.4,972.3 L840.8,962.3" stroke="#5ccb5c" stroke-width="1.8" fill="none"/>
<circle cx="832.1" cy="967.3" r="2.2" stroke="#063" stroke-width="1" fill="#0b7a0b"/>
<path d="M856.6,993.5 L874.0,1003.5" stroke="#5ccb5c" stroke-width="1.8" fill="none"/>
<path d="M856.6,1003.5 L874.0,993.5" stroke="#5ccb5c" stroke-width="1.8" fill="none"/>
<circle cx="865.3" cy="998.5" r="2.2" stroke="#063" stroke-width="1" fill="#0b7a0b"/>
<path d="M870.5,989.4 L887.9,999.4" stroke="#5ccb5c" stroke-width="1.8" fill="none"/>
<path d="M870.5,999.4 L887.9,989.4" stroke="#5ccb5c" stroke-width="1.8" fill="none"/>
<circle cx="879.2" cy="994.4" r="2.2" stroke="#063" stroke-width="1" fill="#0b7a0b"/>
<path d="M834.5,1015.0 L851.9,1025.0" stroke="#5ccb5c" stroke-width="1.8" fill="none"/>
<path d="M834.5,1025.0 L851.9,1015.0" stroke="#5ccb5c" stroke-width="1.8" fill="none"/>
<circle cx="843.2" cy="1020" r="2.2" stroke="#063" stroke-width="1" fill="#0b7a0b"/>
<ellipse cx="752.3" cy="1022.8" rx="3.3" ry="4.1" fill="#ff0000"/>
<ellipse cx="764.1" cy="1029" rx="3.3" ry="4.1" fill="#ff0000"/>
<ellipse cx="759.3" cy="1039.4" rx="3.3" ry="4.1" fill="#ff0000"/>
<ellipse cx="754.4" cy="1052.6" rx="3.3" ry="4.1" fill="#ff0000"/>
<ellipse cx="765.5" cy="1054.7" rx="3.3" ry="4.1" fill="#ff0000"/>
<ellipse cx="757.2" cy="1067.2" rx="3.3" ry="4.1" fill="#ff0000"/>
<ellipse cx="755.8" cy="1097" rx="3.3" ry="4.1" fill="#ff0000"/>
<ellipse cx="793.9" cy="1047.1" rx="3.3" ry="4.1" fill="#ff0000"/>
<ellipse cx="807.1" cy="1054.7" rx="3.3" ry="4.1" fill="#ff0000"/>
<ellipse cx="799.5" cy="1063" rx="3.3" ry="4.1" fill="#ff0000"/>
<ellipse cx="793.2" cy="1070.6" rx="3.3" ry="4.1" fill="#ff0000"/>
<ellipse cx="804.3" cy="1081" rx="3.3" ry="4.1" fill="#ff0000"/>
<ellipse cx="801.6" cy="1092.8" rx="3.3" ry="4.1" fill="#ff0000"/>
<ellipse cx="803.6" cy="1124" rx="3.3" ry="4.1" fill="#ff0000"/>
</svg>
</body></html>
